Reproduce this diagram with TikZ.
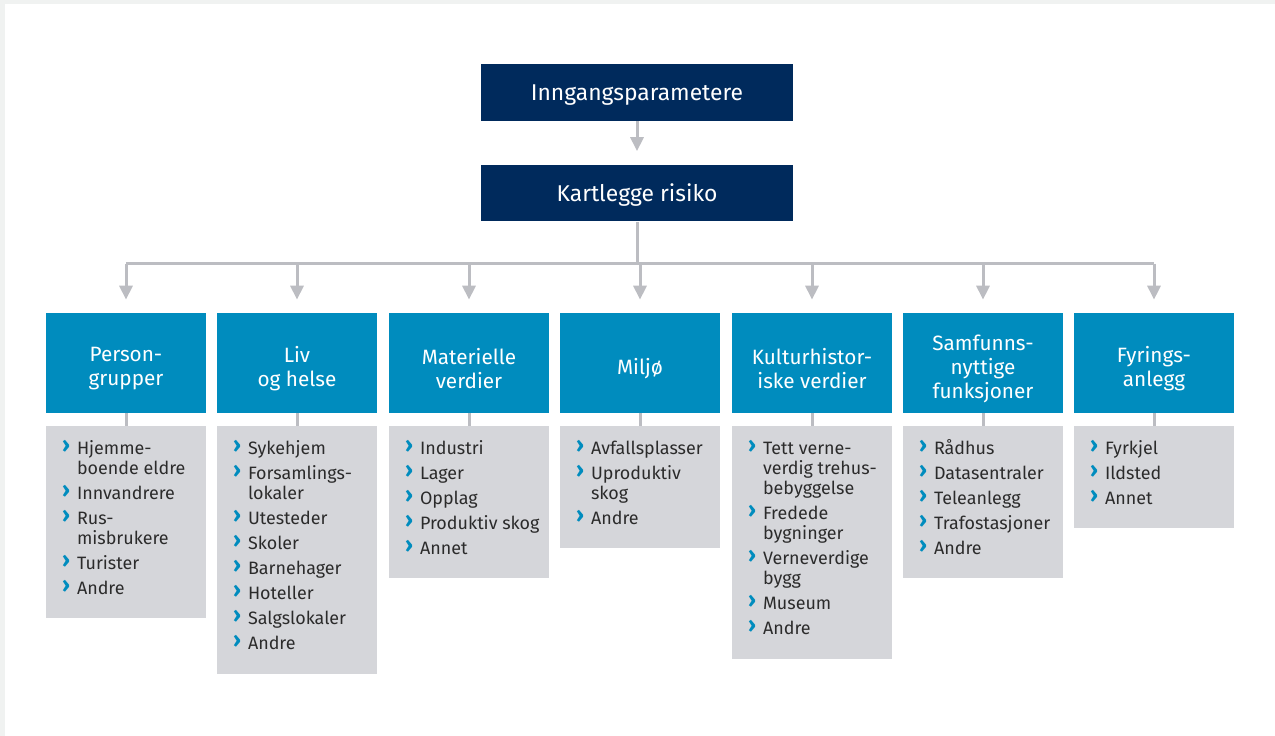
\documentclass[tikz,border=0pt]{standalone}
\usepackage{fontspec}
\setmainfont{Fira Sans}
\usetikzlibrary{arrows.meta}

\definecolor{navy}{HTML}{002A5C}
\definecolor{riskblue}{HTML}{008CBE}
\definecolor{listgray}{HTML}{D5D6DA}
\definecolor{linkgray}{HTML}{BCBDC2}
\definecolor{framegray}{HTML}{F0F2F1}
\definecolor{listtxt}{HTML}{2B2B2B}

\newcommand{\chev}{\makebox[0.3cm][l]{\raisebox{1.2pt}{\textcolor{riskblue}{\fontsize{12.5pt}{0pt}\selectfont\bfseries\char"203A}}}}
\newcommand{\cont}{\hspace*{0.3cm}}
\newcommand{\gap}{\\[2.85pt]}
\newcommand{\lst}[1]{\parbox[t]{2.9cm}{\raggedright #1}}

\begin{document}
\begin{tikzpicture}[x=0.02cm, y=-0.02cm,
    topbox/.style={fill=navy, text=white, minimum width=6.24cm, minimum height=1.14cm, inner sep=0pt,
        text height=0.34cm, text depth=0pt, font=\fontsize{13pt}{15pt}\selectfont},
    headbox/.style={fill=riskblue, minimum width=3.2cm, minimum height=2cm, inner sep=0pt},
    headtext/.style={text=white, inner sep=0pt, align=center, font=\fontsize{11.8pt}{13.66pt}\selectfont},
    listbox/.style={fill=listgray, minimum width=3.2cm, inner sep=0pt, anchor=north},
    listtext/.style={text=listtxt, inner sep=0pt, anchor=base west,
        font=\fontsize{10.2pt}{11.38pt}\selectfont},
    link/.style={linkgray, line width=0.06cm, -{Triangle[width=0.26cm,length=0.28cm]}},
    joint/.style={linkgray, line width=0.06cm}]

    \fill[framegray] (0,0) rectangle (1275,736);
    \fill[white] (5,4) rectangle (1275,736);
    \useasboundingbox (0,0) rectangle (1275,736);

    \node[topbox] (inn) at (637,92.5) {Inngangsparametere};
    \node[topbox] (kart) at (637,193) {Kartlegge risiko};
    \draw[link, shorten >=0.26cm] (inn) -- (kart);

    % the seven groups
    \foreach \i/\x/\head/\bot in {1/126/{Person-\\grupper}/618, 2/297/{Liv\\og helse}/674,
        3/469/{Materielle\\verdier}/578, 4/640/{Miljø}/548, 5/812/{Kulturhistor-\\iske verdier}/659,
        6/983/{Samfunns-\\nyttige\\funksjoner}/578, 7/1154/{Fyrings-\\anlegg}/528} {
        \node[headbox] (h\i) at (\x,363) {};
        \node[headtext] (t\i) at (\x,369) {\head};
        \pgfmathsetmacro{\hgt}{(\bot-426)*0.02}
        \node[listbox, minimum height=\hgt cm] (g\i) at (\x,426) {};
        \draw[joint] (h\i) -- (g\i);
    }

    \coordinate (bar) at (0,264);
    \draw[joint] (kart.south) -- (kart.south |- bar);
    \draw[joint] (h1.north |- bar) -- (h7.north |- bar);
    \foreach \i in {1,...,7}
        \draw[link, shorten >=0.26cm] (h\i.north |- bar) -- (h\i.north);

    \node[listtext] (l1) at ([xshift=0.32cm,yshift=-0.58cm]g1.north west)
        {\lst{\chev Hjemme-\\\cont boende eldre\gap\chev Innvandrere\gap\chev Rus-\\\cont misbrukere\gap
         \chev Turister\gap\chev Andre}};
    \node[listtext] (l2) at ([xshift=0.32cm,yshift=-0.58cm]g2.north west)
        {\lst{\chev Sykehjem\gap\chev Forsamlings-\\\cont lokaler\gap\chev Utesteder\gap\chev Skoler\gap
         \chev Barnehager\gap\chev Hoteller\gap\chev Salgslokaler\gap\chev Andre}};
    \node[listtext] (l3) at ([xshift=0.32cm,yshift=-0.58cm]g3.north west)
        {\lst{\chev Industri\gap\chev Lager\gap\chev Opplag\gap\chev Produktiv skog\gap\chev Annet}};
    \node[listtext] (l4) at ([xshift=0.32cm,yshift=-0.58cm]g4.north west)
        {\lst{\chev Avfallsplasser\gap\chev Uproduktiv\\\cont skog\gap\chev Andre}};
    \node[listtext] (l5) at ([xshift=0.32cm,yshift=-0.58cm]g5.north west)
        {\lst{\chev Tett verne-\\\cont verdig trehus-\\\cont bebyggelse\gap\chev Fredede\\\cont bygninger\gap
         \chev Verneverdige\\\cont bygg\gap\chev Museum\gap\chev Andre}};
    \node[listtext] (l6) at ([xshift=0.32cm,yshift=-0.58cm]g6.north west)
        {\lst{\chev Rådhus\gap\chev Datasentraler\gap\chev Teleanlegg\gap\chev Trafostasjoner\gap\chev Andre}};
    \node[listtext] (l7) at ([xshift=0.32cm,yshift=-0.58cm]g7.north west)
        {\lst{\chev Fyrkjel\gap\chev Ildsted\gap\chev Annet}};
\end{tikzpicture}
\end{document}
